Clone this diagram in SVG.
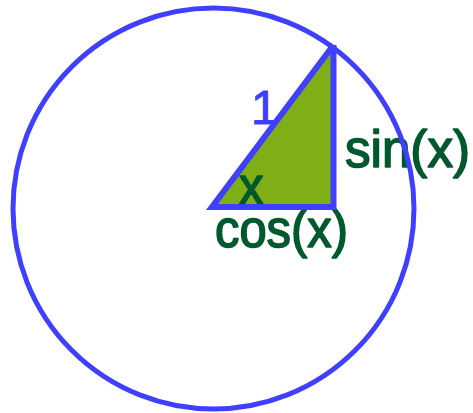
<svg xmlns="http://www.w3.org/2000/svg" width="473" height="413" viewBox="0 0 473 413">
<style>
.lbl{font-family:"Liberation Sans",Arial,sans-serif;font-size:49px;fill:#00592c;stroke:#00592c;stroke-width:1.5;stroke-linejoin:round}
.line{fill:none;stroke:#3f3fff;stroke-width:6;stroke-linejoin:miter}
</style>
<rect width="473" height="413" fill="#ffffff"/>
<g id="triangle">
<polygon points="213,207 333.5,207 333.5,47" fill="#7fae16"/>
</g>
<g id="labels">
<text class="lbl" x="215" y="247" transform="translate(215 247) scale(1 1.07) translate(-215 -247)" textLength="133" lengthAdjust="spacingAndGlyphs">cos(x)</text>
<text class="lbl" x="345" y="167" transform="translate(345 167) scale(1 1.07) translate(-345 -167)" textLength="125" lengthAdjust="spacingAndGlyphs">sin(x)</text>
<text class="lbl" x="239" y="204" transform="translate(239 204) scale(1 1.07) translate(-239 -204)">x</text>
<text class="lbl" x="251" y="124" style="fill:#3f3fff;stroke:#3f3fff;stroke-width:1" font-size="44">1</text>
</g>
<g id="connectors">
<polyline class="line" points="333.5,45 333.5,207 212,207 333.5,45"/>
<circle cx="213.5" cy="208.5" r="200.5" fill="none" stroke="#3f3fff" stroke-width="5"/>
</g>
</svg>
